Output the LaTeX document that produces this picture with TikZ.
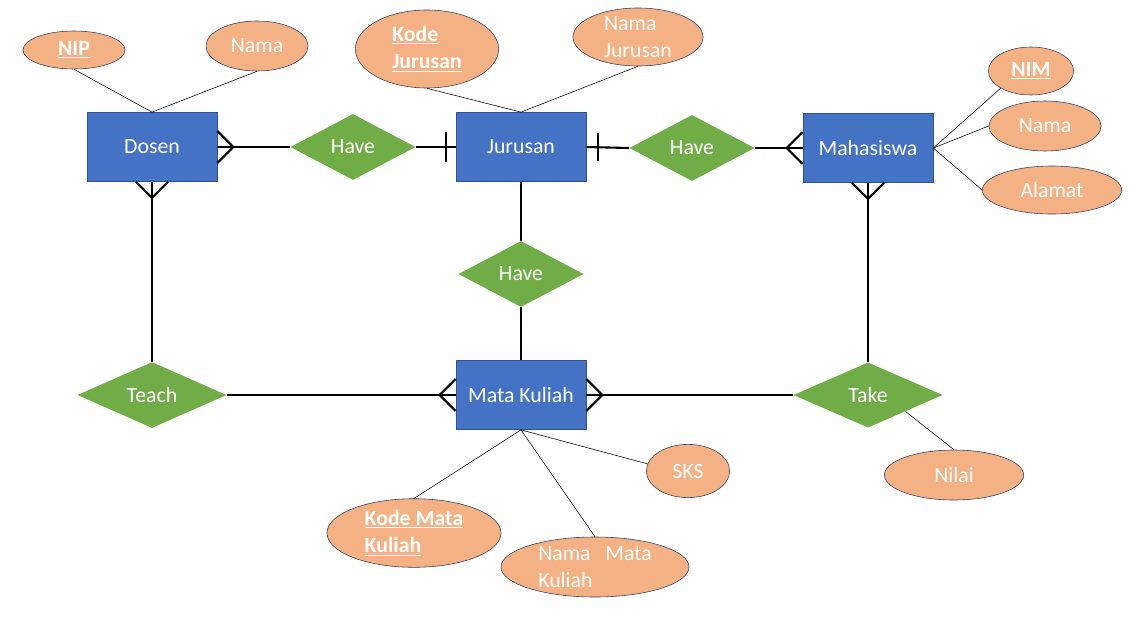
\documentclass[tikz,border=0pt]{standalone}
\usepackage{fontspec}
\setmainfont{Carlito}
\usepackage{tikz}
\usetikzlibrary{shapes.geometric, calc}
\definecolor{EntFill}{HTML}{4472C4}
\definecolor{EntLine}{HTML}{2F528F}
\definecolor{RelFill}{HTML}{70AD47}
\definecolor{AttrFill}{HTML}{F4B183}
\definecolor{AttrLine}{HTML}{2F3E60}
\tikzset{
  entity/.style={rectangle, draw=EntLine, fill=EntFill, text=white, minimum width=3.25cm, minimum height=1.73cm},
  relation/.style={diamond, fill=RelFill, text=white, inner sep=0pt, minimum width=3.13cm, minimum height=1.65cm},
  attr/.style={ellipse, draw=AttrLine, fill=AttrFill, text=white, inner sep=1pt, align=left},
  conn/.style={line width=1.5pt},
  link/.style={thin}
}

\begin{document}
\begin{tikzpicture}[x=0.025cm, y=-0.025cm, font=\fontsize{15.5}{19.5}\selectfont]
        \useasboundingbox (0,0) rectangle (1129,631);

        % entities
        \node (dosen) at (152,147)[entity] {Dosen};
        \node (jurusan) at (521,147)[entity] {Jurusan};
        \node (mhs) at (868,148)[entity] {Mahasiswa};
        \node (matkul) at (521,395)[entity] {Mata Kuliah};

        % relations
        \node (have1) at (353,147)[relation] {Have};
        \node (have2) at (692,148)[relation] {Have};
        \node (have3) at (521,274)[relation] {Have};
        \node (teach) at (152,395)[relation, minimum width=3.73cm, minimum height=1.63cm] {Teach};
        \node (take) at (868,395)[relation, minimum width=3.73cm, minimum height=1.63cm] {Take};

        % attributes
        \node (nip) at (74,50)[attr, minimum width=2.55cm, minimum height=0.95cm] {\underline{\textbf{NIP}}};
        \node (namad) at (257,46)[attr, minimum width=2.55cm, minimum height=1.25cm] {Nama};
        \node (kodej) at (427,49)[attr, minimum width=3.58cm, minimum height=1.95cm] {\underline{\textbf{Kode}}\\\underline{\textbf{Jurusan}}};
        \node (namaj) at (638,37)[attr, inner ysep=-4pt, minimum width=3.25cm, minimum height=1.45cm] {Nama\\Jurusan};
        \node (nim) at (1031,71)[attr, minimum width=2.13cm, minimum height=1.2cm] {\underline{\textbf{NIM}}};
        \node (namam) at (1045,126)[attr, minimum width=2.8cm, minimum height=1.25cm] {Nama};
        \node (alamat) at (1052,190)[attr, minimum width=3.48cm, minimum height=1.2cm] {Alamat};
        \node (nilai) at (954,475)[attr, minimum width=3.48cm, minimum height=1.25cm] {Nilai};
        \node (sks) at (688,471)[attr, minimum width=2.08cm, minimum height=1.33cm] {SKS};
        \node (kodemk) at (414,533)[attr, minimum width=4.35cm, minimum height=1.7cm] {\underline{\textbf{Kode Mata}}\\\underline{\textbf{Kuliah}}};
        \node (namamk) at (595,567)[attr, inner ysep=-4pt, minimum width=4.7cm, minimum height=1.5cm] {Nama\ \ \ Mata\\Kuliah};

        \draw[link] (nip.south) -- (dosen.north);
        \draw[link] (namad.south) -- (dosen.north);
        \draw[link] (kodej.south) -- (jurusan.north);
        \draw[link] (namaj.south) -- (jurusan.north);
        \draw[link] (mhs.east) -- (nim.south west);
        \draw[link] (mhs.east) -- (namam.west);
        \draw[link] (mhs.east) -- (alamat.west);
        \draw[link] (take.south east) -- (nilai.north);
        \draw[link] (matkul.south) -- (sks.170);
        \draw[link] (matkul.south) -- (kodemk.north);
        \draw[link] (matkul.south) -- (namamk.north);

        \draw[conn] (dosen.east) -- (have1.west);
        \draw[conn] (have1.east) -- (jurusan.west);
        \draw[conn] (jurusan.east) -- (have2.west);
        \draw[conn] (have2.east) -- (mhs.west);
        \draw[conn] (dosen.south) -- (teach.north);
        \draw[conn] (mhs.south) -- (take.north);
        \draw[conn] (jurusan.south) -- (have3.north);
        \draw[conn] (have3.south) -- (matkul.north);
        \draw[conn] (teach.east) -- (matkul.west);
        \draw[conn] (matkul.east) -- (take.west);

        % crow's feet
        \draw[conn] ($(dosen.east)+(0,-16)$) -- ($(dosen.east)+(16,0)$) -- ($(dosen.east)+(0,16)$);
        \draw[conn] ($(dosen.south)+(-16,0)$) -- ($(dosen.south)+(0,16)$) -- ($(dosen.south)+(16,0)$);
        \draw[conn] ($(mhs.west)+(0,-16)$) -- ($(mhs.west)+(-16,0)$) -- ($(mhs.west)+(0,16)$);
        \draw[conn] ($(mhs.south)+(-16,0)$) -- ($(mhs.south)+(0,16)$) -- ($(mhs.south)+(16,0)$);
        \draw[conn] ($(matkul.west)+(0,-16)$) -- ($(matkul.west)+(-16,0)$) -- ($(matkul.west)+(0,16)$);
        \draw[conn] ($(matkul.east)+(0,-16)$) -- ($(matkul.east)+(16,0)$) -- ($(matkul.east)+(0,16)$);

        % one-side bars
        \draw[conn] ($(jurusan.west)+(-10,-15)$) -- ($(jurusan.west)+(-10,15)$);
        \draw[conn] ($(jurusan.east)+(12,-14)$) -- ($(jurusan.east)+(12,14)$);

    \end{tikzpicture}
\end{document}
